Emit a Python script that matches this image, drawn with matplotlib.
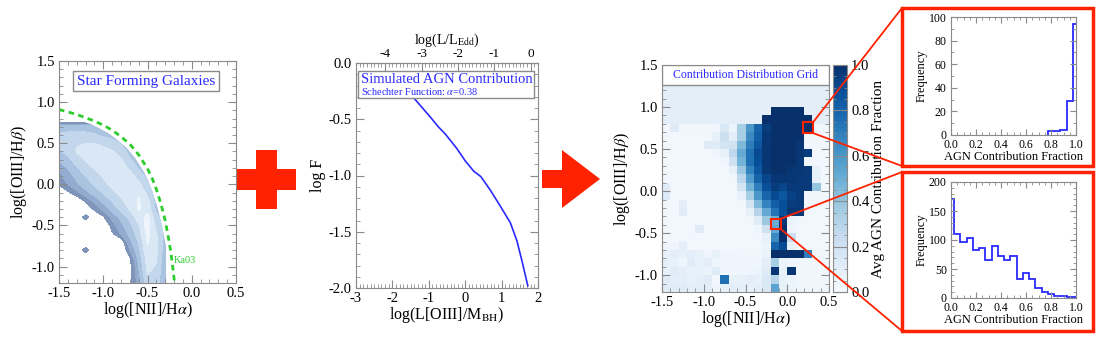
import numpy as np
import matplotlib.pyplot as plt
from matplotlib.patches import Rectangle, Polygon, ConnectionPatch
from matplotlib.ticker import MultipleLocator, FormatStrFormatter

plt.rcParams['font.family'] = ['Liberation Serif', 'DejaVu Serif']
plt.rcParams['mathtext.fontset'] = 'stix'
plt.rcParams['axes.unicode_minus'] = False

W, H = 1099, 340
RED = '#ff2200'
BLUE = '#2a2aff'
GRAY = '#8a8a8a'

# ---- panel 1: star forming density (levels) ----
sf_x = np.linspace(-1.5, -0.1, 15)
sf_y = np.linspace(0.9, -1.2, 22)
sf_levels = [
    [-2, -2, -2, -2, -2, -2, -2, -2, -2, -2, -2, -2, -2, -2, -2],
    [-2, -2, -2, -2, -2, -2, -2, -2, -2, -2, -2, -2, -2, -2, -2],
    [3.0, 3.0, 3.0, 3.0, 3.0, 3.0, 3.0, 3.0, 3.0, 3.0, 3.0, 3.0, 3.0, 3.0, 3.0],
    [3.6, 3.8, 3.8, 3.8, 3.6, 3.3, 3.0, 3.0, 3.0, 3.0, 3.0, 3.0, 3.0, 3.0, 3.0],
    [3.6, 4.0, 4.4, 4.5, 4.5, 4.3, 4.0, 3.4, 3.0, 3.0, 3.0, 3.0, 3.0, 3.0, 3.0],
    [3.4, 3.8, 4.6, 5.0, 5.0, 4.8, 4.6, 4.0, 3.2, 3.0, 3.0, 3.0, 3.0, 3.0, 3.0],
    [2.6, 3.2, 4.0, 4.6, 5.0, 5.2, 5.0, 4.6, 3.6, 3.0, 3.0, 3.0, 3.0, 3.0, 3.0],
    [1.6, 2.6, 3.4, 4.0, 4.6, 5.0, 5.4, 5.0, 4.3, 3.4, 3.0, 3.0, 3.0, 3.0, 3.0],
    [1.2, 2.0, 2.8, 3.5, 4.0, 4.6, 5.0, 5.4, 5.0, 4.0, 3.2, 3.0, 3.0, 3.0, 3.0],
    [0.7, 1.5, 2.3, 3.0, 3.6, 4.2, 4.8, 5.3, 5.5, 4.8, 3.6, 3.0, 3.0, 3.0, 3.0],
    [-1.0, 0.3, 1.2, 2.2, 3.0, 3.6, 4.2, 4.8, 5.5, 5.4, 4.2, 3.0, 3.0, 3.0, 3.0],
    [-1.0, -1.0, -0.5, 0.7, 1.8, 2.8, 3.6, 4.3, 5.0, 5.6, 4.8, 3.0, 3.0, 3.0, 3.0],
    [-1.0, -1.0, -1.0, -1.0, 0.8, 1.8, 2.8, 3.8, 4.6, 5.6, 5.2, 3.2, 3.0, 3.0, 3.0],
    [-1.0, -1.0, -1.0, 1.2, -1.0, 0.3, 1.8, 2.8, 3.8, 5.0, 5.8, 3.8, 3.0, 3.0, 3.0],
    [-1.0, -1.0, -1.0, -1.0, -1.0, -1.0, 1.0, 2.2, 3.2, 4.4, 6.0, 4.2, 3.0, 3.0, 3.0],
    [-1.0, -1.0, -1.0, -1.0, -1.0, -1.0, 0.3, 1.6, 2.8, 4.0, 5.8, 4.6, 3.0, 3.0, 3.0],
    [-1.0, -1.0, -1.0, -1.0, -1.0, -1.0, -1.0, -0.3, 2.2, 3.6, 5.6, 4.8, 3.0, 3.0, 3.0],
    [-1.0, -1.0, -1.0, 1.2, -1.0, -1.0, -1.0, -1.0, 1.5, 3.2, 5.3, 4.8, 2.8, 2.8, 2.8],
    [-1.0, -1.0, -1.0, -1.0, -1.0, -1.0, -1.0, -1.0, 0.4, 2.8, 5.0, 4.6, 2.8, 2.8, 2.8],
    [-1.0, -1.0, -1.0, -1.0, -1.0, -1.0, -1.0, -1.0, 0.0, 2.5, 4.8, 4.4, 2.6, 2.6, 2.6],
    [-1.0, -1.0, -1.0, -1.0, -1.0, -1.0, -1.0, -1.0, 0.0, 2.2, 4.5, 4.2, 2.5, 2.5, 2.5],
    [-1.0, -1.0, -1.0, -1.0, -1.0, -1.0, -1.0, -1.0, 0.0, 2.0, 4.2, 4.0, 2.4, 2.4, 2.4],
]
sf_colors = ['#7f95ba', '#93abcf', '#aac3e0', '#c3d7ec', '#dae7f4', '#edf4fb']

# Ka03 demarcation line
ka_x = [-1.5, -1.4, -1.3, -1.2, -1.1, -1.0, -0.9, -0.8, -0.7, -0.6, -0.5,
        -0.45, -0.4, -0.35, -0.3, -0.27, -0.24, -0.22, -0.2, -0.19]
ka_y = [0.91, 0.88, 0.85, 0.81, 0.77, 0.72, 0.66, 0.58, 0.49, 0.36, 0.19,
        0.08, -0.06, -0.23, -0.44, -0.61, -0.80, -0.96, -1.14, -1.24]

# ---- panel 2: simulated AGN contribution ----
lum_bh = [-1.55, -1.44, -1.2, -0.96, -0.73, -0.55, -0.23, 0.0, 0.23, 0.43,
          0.69, 0.96, 1.24, 1.42, 1.56, 1.72]
log_f = [-0.25, -0.30, -0.39, -0.48, -0.57, -0.63, -0.76, -0.87, -0.96, -1.01,
         -1.13, -1.27, -1.42, -1.58, -1.76, -1.98]

# ---- panel 3: contribution grid (percent, rows top y=1.4 -> bottom y=-1.2) ----
grid_rows = [
    [10] * 20,
    [10] * 20,
    [10] * 20,
    [10] * 20,
    [10] * 20,
    [10] * 13 + [100, 100, 100, 100] + [10, 10, 10],
    [10] * 12 + [100] * 6 + [10, 10],
    [3, 12, 4, 4, 4, 4, 5, 15, 6, 35, 60, 80, 95, 100, 100, 100, 100, 100, 4, 4],
    [3, 3, 3, 3, 3, 3, 8, 22, 10, 35, 65, 82, 97, 100, 100, 100, 100, 4, 3, 3],
    [3, 3, 3, 3, 3, 12, 12, 18, 20, 45, 70, 85, 98, 100, 100, 100, 98, 4, 3, 3],
    [3, 3, 3, 3, 3, 3, 5, 8, 28, 52, 75, 90, 98, 100, 100, 100, 98, 95, 3, 3],
    [3, 3, 3, 3, 3, 3, 3, 5, 20, 48, 75, 88, 98, 100, 100, 100, 97, 4, 3, 3],
    [3, 3, 3, 3, 3, 3, 3, 3, 8, 38, 68, 85, 97, 100, 100, 98, 97, 96, 8, 3],
    [3, 3, 3, 3, 3, 3, 3, 3, 4, 28, 58, 80, 92, 98, 98, 97, 96, 96, 8, 3],
    [12, 3, 3, 3, 3, 3, 3, 3, 3, 18, 48, 70, 88, 95, 92, 96, 96, 96, 40, 3],
    [14, 3, 3, 3, 3, 3, 3, 3, 3, 8, 35, 60, 80, 90, 85, 93, 96, 4, 3, 3],
    [3, 3, 10, 3, 3, 3, 3, 3, 3, 4, 18, 45, 68, 82, 88, 95, 96, 3, 3, 3],
    [3, 3, 12, 3, 3, 3, 3, 3, 3, 3, 8, 30, 52, 74, 88, 97, 97, 3, 3, 3],
    [3, 3, 3, 3, 3, 3, 3, 3, 3, 3, 4, 12, 38, 50, 96, 6, 4, 3, 3, 3],
    [3, 3, 3, 3, 12, 3, 3, 3, 3, 3, 3, 5, 20, 52, 100, 5, 3, 3, 3, 3],
    [3, 3, 3, 3, 3, 3, 3, 3, 3, 3, 3, 3, 8, 65, 100, 22, 3, 3, 3, 3],
    [5, 5, 10, 3, 3, 3, 3, 3, 3, 3, 3, 3, 6, 80, 90, 8, 3, 3, 3, 3],
    [8, 10, 8, 10, 8, 5, 8, 5, 5, 4, 4, 4, 6, 100, 100, 100, 100, 70, 4, 4],
    [10, 8, 5, 12, 8, 10, 5, 5, 5, 5, 5, 5, 10, 35, 6, 5, 4, 4, 4, 4],
    [8, 12, 10, 8, 8, 6, 12, 5, 5, 5, 5, 6, 12, 98, 8, 98, 4, 4, 4, 4],
    [12, 10, 10, 8, 10, 12, 3, 75, 8, 8, 10, 8, 15, 30, 8, 6, 4, 4, 4, 4],
    [12, 12, 12, 10, 10, 10, 5, 8, 10, 10, 8, 10, 15, 55, 8, 6, 4, 4, 4, 4],
]
grid_xedges = np.linspace(-1.5, 0.5, 21)
grid_yedges = np.linspace(-1.2, 1.5, 28)

# ---- histograms ----
hi_centers = [0.80, 0.85, 0.90, 0.95, 1.00]
hi_counts = [3, 3, 4, 29, 94]
lo_centers = [0.0, 0.05, 0.10, 0.15, 0.20, 0.25, 0.30, 0.35, 0.40, 0.45, 0.50,
              0.55, 0.60, 0.65, 0.70, 0.75, 0.80, 0.85, 0.90, 0.95, 1.00]
lo_counts = [171, 110, 97, 103, 83, 86, 66, 90, 72, 65, 73,
             33, 43, 33, 17, 11, 7, 4, 3, 1, 2]


def box(x0, y0, x1, y1):
    return [x0 / W, 1 - y1 / H, (x1 - x0) / W, (y1 - y0) / H]


def fpt(x, y):
    return (x / W, 1 - y / H)


def style(ax, xmaj, xmin, ymaj, ymin, size, top=True):
    ax.xaxis.set_major_locator(MultipleLocator(xmaj))
    ax.xaxis.set_minor_locator(MultipleLocator(xmin))
    ax.yaxis.set_major_locator(MultipleLocator(ymaj))
    ax.yaxis.set_minor_locator(MultipleLocator(ymin))
    ax.tick_params(which='both', direction='in', top=top, right=True,
                   color=GRAY, labelsize=size, pad=3)
    ax.tick_params(which='major', length=6)
    ax.tick_params(which='minor', length=3)
    for s in ax.spines.values():
        s.set_color(GRAY)


fig = plt.figure(figsize=(W / 100, H / 100), dpi=100)

# panel 1
ax1 = fig.add_axes(box(59, 61, 236, 283))
ax1.set_xlim(-1.5, 0.5)
ax1.set_ylim(-1.2, 1.5)
cs = ax1.contourf(sf_x, sf_y, np.array(sf_levels), levels=[0.5, 1.5, 2.5, 3.5, 4.5, 5.5, 7],
                  colors=sf_colors)
# keep the density just inside the Ka03 line, with the straight cut at the bottom
edge = [(x - 0.04, y - 0.04) for x, y in zip(ka_x, ka_y) if y - 0.04 > -0.7]
clip_xy = [(-1.7, edge[0][1])] + edge + [(-0.29, -0.75), (-0.29, -1.4), (-1.7, -1.4)]
clip_poly = Polygon(clip_xy, closed=True, transform=ax1.transData)
cs.set_clip_path(clip_poly)
ax1.plot(ka_x, ka_y, color='#2ccc2c', lw=2, ls=(0, (2, 1.6)))
ax1.text(-0.2, -0.96, 'Ka03', color='#2ccc2c', fontsize=7.5)
ax1.text(-0.52, 1.255, 'Star Forming Galaxies', color=BLUE, fontsize=11, ha='center', va='center',
         bbox=dict(boxstyle='square,pad=0.25', fc='white', ec=GRAY, lw=1))
style(ax1, 0.5, 0.1, 0.5, 0.1, 10.5)
ax1.xaxis.set_major_formatter(FormatStrFormatter('%.1f'))
ax1.yaxis.set_major_formatter(FormatStrFormatter('%.1f'))
ax1.set_xlabel(r'log([NII]/H$\alpha$)', fontsize=11.5, labelpad=0)
ax1.set_ylabel(r'log([OIII]/H$\beta$)', fontsize=11.5, labelpad=2)

# panel 2
ax2 = fig.add_axes(box(356, 63, 538, 288))
ax2.set_xlim(-3, 2)
ax2.set_ylim(-2, 0)
ax2.plot(lum_bh, log_f, color=BLUE, lw=1.2, zorder=2)
ax2.add_patch(Rectangle((0.01, 0.844), 0.968, 0.12, transform=ax2.transAxes,
                        fc='white', ec=GRAY, lw=1, zorder=3))
ax2.text(0.03, 0.925, 'Simulated AGN Contribution', transform=ax2.transAxes, color=BLUE,
         fontsize=10.5, va='center', zorder=4)
ax2.text(0.03, 0.874, r'Schechter Function: $\alpha$=0.38', transform=ax2.transAxes,
         color=BLUE, fontsize=7.5, va='center', zorder=4)
style(ax2, 1, 0.1, 0.5, 0.1, 10.5, top=False)
ax2.yaxis.set_major_formatter(FormatStrFormatter('%.1f'))
ax2.set_xlabel(r'log(L[OIII]/M$_{\rm BH}$)', fontsize=11.5, labelpad=0)
ax2.set_ylabel('log F', fontsize=11.5, labelpad=2)
sec = ax2.secondary_xaxis('top', functions=(lambda v: v - 1.8, lambda v: v + 1.8))
sec.xaxis.set_major_locator(MultipleLocator(1))
sec.xaxis.set_minor_locator(MultipleLocator(0.1))
sec.tick_params(which='both', direction='in', color=GRAY, labelsize=9.5, pad=2)
sec.tick_params(which='major', length=6)
sec.tick_params(which='minor', length=3)
sec.spines['top'].set_color(GRAY)
sec.set_xlabel(r'log(L/L$_{\rm Edd}$)', fontsize=10, labelpad=3)

# panel 3
ax3 = fig.add_axes(box(662, 65, 829, 292))
ax3.set_xlim(-1.5, 0.5)
ax3.set_ylim(-1.2, 1.5)
mesh = ax3.pcolormesh(grid_xedges, grid_yedges, np.array(grid_rows)[::-1] / 100.0,
                      cmap='Blues', vmin=0, vmax=1)
ax3.add_patch(Rectangle((0, 0.911), 1, 0.089, transform=ax3.transAxes,
                        fc='white', ec=GRAY, lw=1, zorder=3))
ax3.text(0.5, 0.955, 'Contribution Distribution Grid', transform=ax3.transAxes, color=BLUE,
         fontsize=8.5, ha='center', va='center', zorder=4)
ax3.add_patch(Rectangle((0.19, 0.69), 0.12, 0.13, fill=False, ec=RED, lw=1.5, zorder=5))
ax3.add_patch(Rectangle((-0.2, -0.45), 0.12, 0.12, fill=False, ec=RED, lw=1.5, zorder=5))
style(ax3, 0.5, 0.1, 0.5, 0.1, 10.5)
ax3.xaxis.set_major_formatter(FormatStrFormatter('%.1f'))
ax3.yaxis.set_major_formatter(FormatStrFormatter('%.1f'))
ax3.set_xlabel(r'log([NII]/H$\alpha$)', fontsize=11.5, labelpad=0)
ax3.set_ylabel(r'log([OIII]/H$\beta$)', fontsize=11.5, labelpad=2)

cax = fig.add_axes(box(833, 65, 847, 292))
cb = fig.colorbar(mesh, cax=cax)
cb.outline.set_edgecolor(GRAY)
cax.yaxis.set_major_locator(MultipleLocator(0.2))
cax.yaxis.set_minor_locator(MultipleLocator(0.05))
cax.yaxis.set_major_formatter(FormatStrFormatter('%.1f'))
cax.tick_params(which='both', direction='in', left=True, right=True, color=GRAY,
                labelsize=10.5, pad=3)
cax.tick_params(which='major', length=5)
cax.tick_params(which='minor', length=2.5)
cb.set_label('Avg AGN Contribution Fraction', fontsize=11, labelpad=2)

# histograms
for pos, centers, counts, ymax, ymaj, ymin in [
        ((951, 17, 1076, 135), hi_centers, hi_counts, 100, 20, 10),
        ((951, 182, 1076, 298), lo_centers, lo_counts, 200, 50, 10)]:
    ax = fig.add_axes(box(*pos))
    edges = np.append(np.array(centers) - 0.025, centers[-1] + 0.025)
    ax.stairs(counts, edges, color=BLUE, lw=1.3, baseline=0)
    ax.set_xlim(0, 1)
    ax.set_ylim(0, ymax)
    style(ax, 0.2, 0.05, ymaj, ymin, 8.5)
    ax.xaxis.set_major_formatter(FormatStrFormatter('%.1f'))
    ax.tick_params(which='major', length=4)
    ax.tick_params(which='minor', length=2)
    ax.set_xlabel('AGN Contribution Fraction', fontsize=9, labelpad=0)
    ax.set_ylabel('Frequency', fontsize=9, labelpad=1)

# red frames around histograms
for y0, y1 in [(8, 166), (172, 331)]:
    fig.add_artist(Rectangle(fpt(902, y1), 191 / W, (y1 - y0) / H, fill=False,
                             ec=RED, lw=2.5, transform=fig.transFigure))

# connector lines from squares to frames
for xy_data, corner in [((0.31, 0.82), (902, 8)), ((0.31, 0.69), (902, 166)),
                        ((-0.08, -0.33), (902, 172)), ((-0.08, -0.45), (902, 331))]:
    con = ConnectionPatch(xyA=xy_data, coordsA=ax3.transData, xyB=fpt(*corner),
                          coordsB=fig.transFigure, color=RED, lw=1.3)
    fig.add_artist(con)

# plus sign and arrow
fig.add_artist(Rectangle(fpt(237, 190), 59 / W, 21 / H, fc=RED, ec='none',
                         transform=fig.transFigure))
fig.add_artist(Rectangle(fpt(256, 209), 21 / W, 59 / H, fc=RED, ec='none',
                         transform=fig.transFigure))
arrow_pts = [fpt(542, 170), fpt(562, 170), fpt(562, 150), fpt(600, 179),
             fpt(562, 208), fpt(562, 188), fpt(542, 188)]
fig.add_artist(Polygon(arrow_pts, closed=True, fc=RED, ec='none', transform=fig.transFigure))

fig.savefig('out.png', dpi=100)
